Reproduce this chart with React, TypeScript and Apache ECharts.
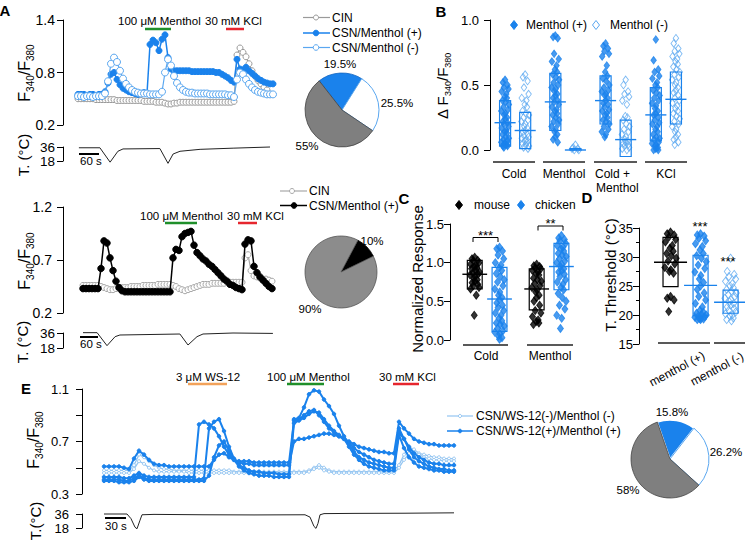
import React, { useEffect, useRef } from 'react';
import * as echarts from 'echarts';

const FONT = "'Liberation Sans', Arial, Helvetica, sans-serif";
const BLUE = '#1a82ec';
const LBLUE = '#5aa7f0';
const EL = '#93c5f2';
const GREEN = '#1f8f2a';
const RED = '#e6262e';
const ORANGE = '#f2a25a';

// ---------- Panel A (top): F340/F380 traces, one value per sample ----------
const aTopPos = [
  0.55, 0.55, 0.55, 0.54, 0.55, 0.55, 0.54, 0.55, 0.55,
  0.58, 0.68, 0.78, 0.8, 0.72, 0.66, 0.62, 0.6, 0.58, 0.57, 0.56, 0.55, 0.56, 0.57, 0.56,
  1.12, 1.17, 1.14, 1.05, 1.18, 1.23, 0.97, 0.84, 0.82,
  0.82, 0.82, 0.82, 0.82, 0.82, 0.81, 0.81, 0.81, 0.81, 0.81, 0.81, 0.81, 0.81, 0.8,
  0.8, 0.78, 0.76, 0.74, 0.71, 0.69,
  0.95, 0.84, 0.83, 0.86, 0.82, 0.79, 0.76, 0.73, 0.71, 0.69, 0.68, 0.67, 0.67,
];
const aTopNeg = [
  0.53, 0.53, 0.52, 0.53, 0.53, 0.52, 0.53, 0.53, 0.53,
  0.56, 0.7, 0.9, 0.97, 0.92, 0.82, 0.73, 0.67, 0.63, 0.6, 0.58, 0.57,
  0.56, 0.56, 0.56, 0.55, 0.55, 0.55, 0.55,
  0.58, 0.8, 0.95, 0.88, 0.76, 0.68, 0.63, 0.6, 0.58,
  0.57, 0.57, 0.56, 0.56, 0.56, 0.56, 0.56, 0.55, 0.55, 0.55, 0.55, 0.55, 0.55, 0.54, 0.54,
  0.52, 0.72, 0.8, 0.78, 0.72, 0.67, 0.63, 0.6, 0.58, 0.57, 0.56, 0.55, 0.55, 0.55,
];
const aTopCIN = [
  0.5, 0.5, 0.5, 0.5, 0.5, 0.5, 0.49, 0.49, 0.49, 0.49,
  0.49, 0.49, 0.49, 0.48, 0.48, 0.48, 0.48, 0.48, 0.48, 0.48, 0.48, 0.48, 0.47, 0.47,
  0.47, 0.47, 0.46, 0.46, 0.46, 0.45, 0.44, 0.44, 0.45, 0.45,
  0.46, 0.46, 0.46, 0.46, 0.46, 0.46, 0.46, 0.46, 0.46, 0.46, 0.46, 0.46, 0.46, 0.46, 0.46, 0.46, 0.46, 0.46,
  0.47, 1.0, 1.08, 1.03, 0.98, 0.9, 0.82, 0.76, 0.71, 0.67, 0.63, 0.6,
];
// [sample, °C]
const aTopTemp = [[0.3, 35], [7.3, 35], [10.7, 16.5], [13.3, 30.5], [15, 33.5], [27.3, 34], [30, 15], [31.7, 27], [34, 30.5], [40.7, 33], [51.7, 34.5], [64, 36]];
const aTopPie = [19.5, 25.5, 55];
const aTopPieLabels = ['19.5%', '25.5%', '55%'];

// ---------- Panel A (bottom) ----------
const aBotPos = [
  0.43, 0.43, 0.43, 0.43, 0.43, 0.43,
  0.62, 0.88, 0.86, 0.72, 0.6, 0.5, 0.44, 0.41,
  0.4, 0.4, 0.4, 0.4, 0.4, 0.4, 0.4, 0.4, 0.4, 0.4, 0.4, 0.4, 0.4, 0.4, 0.4, 0.4,
  0.72, 0.8, 0.79, 0.92, 0.95, 0.96, 0.97, 0.84, 0.77, 0.74, 0.71, 0.69, 0.66, 0.64, 0.61, 0.58, 0.55, 0.52, 0.5, 0.47, 0.46, 0.44, 0.43, 0.42,
  0.85, 0.89, 0.88, 0.64, 0.58, 0.54, 0.51, 0.48, 0.45, 0.43,
];
const aBotCIN = [
  0.46, 0.46, 0.46, 0.46, 0.46, 0.46,
  0.45, 0.44, 0.43, 0.42, 0.42, 0.43, 0.43,
  0.44, 0.44, 0.44, 0.45, 0.45, 0.45, 0.45, 0.46, 0.46, 0.46, 0.46, 0.46, 0.47, 0.47, 0.47, 0.47, 0.47,
  0.46, 0.45, 0.43, 0.42, 0.41, 0.42, 0.43, 0.44, 0.45, 0.46,
  0.47, 0.47, 0.47, 0.48, 0.48, 0.48, 0.48, 0.48, 0.49, 0.49, 0.49, 0.49, 0.49, 0.49,
  0.72, 0.75, 0.6, 0.55, 0.54, 0.53, 0.52, 0.52, 0.51, 0.5,
];
const aBotTemp = [[0, 36.4], [4.7, 36.4], [8, 20.8], [10.7, 31.6], [12.3, 33.6], [32.3, 34.8], [35, 21.6], [38, 31.6], [40, 34.8], [50, 36], [63.3, 35.5]];
const aBotPie = [10, 90];
const aBotPieLabels = ['10%', '90%'];

// ---------- Panel B ----------
const bGroups = ['Cold', 'Menthol', 'Cold +', 'KCl'];
const bPosPts = [
  [0.54, 0.52, 0.5, 0.48, 0.47, 0.45, 0.43, 0.41, 0.4, 0.38, 0.37, 0.35, 0.33, 0.31, 0.3, 0.28, 0.27, 0.25, 0.24, 0.22, 0.21, 0.2, 0.18, 0.17, 0.15, 0.14, 0.13, 0.12, 0.1, 0.09, 0.08, 0.07, 0.06, 0.05, 0.05, 0.04, 0.04, 0.03, 0.03, 0.02],
  [0.88, 0.87, 0.86, 0.74, 0.7, 0.68, 0.65, 0.62, 0.6, 0.58, 0.56, 0.54, 0.52, 0.5, 0.48, 0.47, 0.45, 0.43, 0.42, 0.4, 0.38, 0.37, 0.35, 0.33, 0.31, 0.3, 0.28, 0.27, 0.25, 0.23, 0.22, 0.2, 0.18, 0.16, 0.14, 0.12, 0.1, 0.08, 0.06],
  [0.82, 0.8, 0.78, 0.76, 0.74, 0.72, 0.65, 0.6, 0.57, 0.55, 0.53, 0.5, 0.48, 0.46, 0.45, 0.43, 0.42, 0.4, 0.38, 0.36, 0.35, 0.33, 0.31, 0.3, 0.28, 0.27, 0.25, 0.23, 0.22, 0.2, 0.18, 0.16, 0.14, 0.12, 0.1],
  [0.85, 0.69, 0.62, 0.6, 0.57, 0.55, 0.52, 0.5, 0.48, 0.46, 0.44, 0.42, 0.4, 0.38, 0.36, 0.34, 0.32, 0.3, 0.28, 0.27, 0.25, 0.23, 0.21, 0.2, 0.18, 0.16, 0.14, 0.12, 0.1, 0.09, 0.08, 0.06, 0.05, 0.04, 0.03, 0.02, 0.01, 0.0, 0.0],
];
const bNegPts = [
  [0.58, 0.56, 0.53, 0.48, 0.43, 0.4, 0.38, 0.35, 0.33, 0.3, 0.28, 0.27, 0.25, 0.23, 0.22, 0.2, 0.18, 0.17, 0.15, 0.14, 0.12, 0.11, 0.1, 0.09, 0.08, 0.07, 0.06, 0.05, 0.04, 0.03, 0.02, 0.01],
  [0.04, 0.02, 0.01, 0.0, 0.0, 0.01],
  [0.54, 0.5, 0.45, 0.43, 0.41, 0.38, 0.35, 0.26, 0.25, 0.23, 0.2, 0.18, 0.16, 0.14, 0.12, 0.1, 0.08, 0.07, 0.06, 0.05, 0.04, 0.03, 0.02, 0.01, 0.0],
  [0.86, 0.82, 0.78, 0.76, 0.74, 0.72, 0.7, 0.68, 0.66, 0.64, 0.62, 0.6, 0.58, 0.56, 0.54, 0.52, 0.5, 0.48, 0.46, 0.44, 0.42, 0.4, 0.38, 0.36, 0.34, 0.32, 0.3, 0.28, 0.26, 0.24, 0.22, 0.2, 0.18, 0.16, 0.14, 0.12, 0.1, 0.08, 0.06, 0.04],
];
const bPosLow = [0.03, 0.15, 0.2, 0.07];
const bPosHigh = [0.38, 0.59, 0.57, 0.48];
const bPosMean = [0.21, 0.37, 0.38, 0.27];
const bNegLow = [0.01, 0.0, -0.05, 0.2];
const bNegHigh = [0.29, 0.01, 0.23, 0.6];
const bNegMean = [0.15, 0.0, 0.08, 0.39];

// ---------- Panel C ----------
const cGroups = ['Cold', 'Menthol'];
const cMousePts = [
  [1.07, 1.05, 1.03, 1.02, 1.0, 0.98, 0.96, 0.95, 0.93, 0.92, 0.9, 0.88, 0.87, 0.85, 0.84, 0.82, 0.8, 0.78, 0.76, 0.74, 0.72, 0.7, 0.68, 0.66, 0.58, 0.32],
  [0.98, 0.96, 0.95, 0.93, 0.92, 0.9, 0.88, 0.86, 0.84, 0.8, 0.78, 0.76, 0.73, 0.7, 0.68, 0.65, 0.62, 0.58, 0.55, 0.5, 0.45, 0.38, 0.35, 0.3, 0.26, 0.24, 0.22, 0.2],
];
const cChickPts = [
  [1.2, 1.18, 1.15, 1.1, 1.05, 1.0, 0.97, 0.93, 0.9, 0.86, 0.82, 0.78, 0.75, 0.7, 0.66, 0.62, 0.58, 0.55, 0.52, 0.48, 0.45, 0.42, 0.38, 0.35, 0.32, 0.28, 0.25, 0.22, 0.2, 0.18, 0.15, 0.12, 0.1, 0.08, 0.05, 0.03, 0.01],
  [1.35, 1.32, 1.3, 1.28, 1.25, 1.22, 1.2, 1.18, 1.15, 1.12, 1.1, 1.08, 1.05, 1.02, 1.0, 0.98, 0.95, 0.92, 0.9, 0.88, 0.85, 0.82, 0.78, 0.75, 0.72, 0.68, 0.65, 0.6, 0.55, 0.5, 0.45, 0.4, 0.32, 0.28, 0.15],
];
const cMouseLow = [0.66, 0.39];
const cMouseHigh = [1.03, 0.92];
const cMouseMean = [0.85, 0.66];
const cChickLow = [0.11, 0.65];
const cChickHigh = [0.94, 1.25];
const cChickMean = [0.53, 0.95];

// ---------- Panel D ----------
const dMouse = [34.3, 34, 33.8, 33.4, 33, 32.6, 32, 31.5, 31, 30.6, 30.2, 29.8, 29.3, 28.8, 28.2, 27.8, 27.5, 27.2, 23.2, 22.9, 22.6, 20.6];
const dChickPos = [34, 33.8, 33.6, 33.2, 32.8, 32.3, 31.8, 31.2, 30.6, 30.2, 29.8, 29.2, 28.6, 28, 27.4, 26.8, 26.2, 25.6, 25, 24.4, 23.8, 23.2, 22.6, 22, 21.4, 20.8, 20.5, 20.3, 20.1, 20, 19.8, 19.7, 19.6, 19.5, 19.4, 19.3, 19.2, 19.2];
const dChickNeg = [29.8, 27.5, 27, 26.6, 26.2, 25.8, 25.4, 25, 24.7, 24.4, 24.1, 23.8, 23.5, 23.2, 22.9, 22.6, 22.3, 22, 21.7, 21.4, 21.1, 20.8, 20.5, 20.2, 20, 19.8, 19.5, 19.2, 19];
const dLow = [24.9, 19.9, 20.3];
const dHigh = [33.4, 30.3, 24.3];
const dMean = [29.1, 25.1, 22.2];
const dGroups = ['menthol (+)', 'menthol (-)'];

// ---------- Panel E ----------
const eD1 = [
  0.51, 0.51, 0.51, 0.51, 0.5,
  0.49, 0.57, 0.63, 0.6, 0.56, 0.53,
  0.52, 0.52, 0.51, 0.51, 0.51, 0.51, 0.51, 0.51, 0.51, 0.51, 0.51,
  0.56, 0.6, 0.61, 0.58, 0.56,
  0.55, 0.55, 0.55, 0.54, 0.54, 0.54, 0.54, 0.54, 0.54, 0.54, 0.54,
  0.86, 0.87, 0.9, 0.93, 0.94, 0.9, 0.85, 0.8, 0.77, 0.74, 0.72, 0.7, 0.68, 0.66, 0.65, 0.64, 0.63, 0.62, 0.62, 0.61, 0.61,
  0.85, 0.8, 0.76, 0.72, 0.7, 0.69, 0.68, 0.68, 0.67, 0.67, 0.67, 0.67,
];
const eD2 = [
  0.43, 0.43, 0.43, 0.43, 0.42,
  0.42, 0.44, 0.46, 0.44, 0.43,
  0.43, 0.43, 0.43, 0.43, 0.43, 0.43, 0.43, 0.43, 0.43,
  0.83, 0.85, 0.83, 0.8, 0.74, 0.66, 0.6, 0.56, 0.54, 0.53,
  0.53, 0.52, 0.52, 0.52, 0.52, 0.52, 0.52, 0.52, 0.52,
  0.7, 0.72, 0.72, 0.73, 0.74, 0.75, 0.76, 0.76, 0.75, 0.74, 0.72, 0.69, 0.65, 0.62, 0.6, 0.58, 0.56, 0.55, 0.54, 0.53, 0.53,
  0.77, 0.72, 0.66, 0.61, 0.58, 0.56, 0.54, 0.53, 0.53, 0.52, 0.52, 0.52,
];
const eD3 = [
  0.41, 0.41, 0.41, 0.41, 0.4,
  0.4, 0.42, 0.44, 0.42, 0.41,
  0.41, 0.41, 0.41, 0.41, 0.41, 0.41, 0.41, 0.41, 0.41, 0.41,
  0.42, 0.8, 0.85, 0.87, 0.78, 0.66, 0.57, 0.52, 0.5, 0.48,
  0.47, 0.47, 0.46, 0.46, 0.46, 0.45, 0.45, 0.45,
  0.87, 0.88, 0.96, 1.06, 1.09, 1.08, 1.02, 0.97, 0.91, 0.82, 0.74, 0.68, 0.62, 0.58, 0.56, 0.54, 0.53, 0.52, 0.51, 0.5, 0.5,
  0.8, 0.72, 0.64, 0.58, 0.55, 0.53, 0.51, 0.5, 0.49, 0.49, 0.48, 0.48,
];
const eD4 = [
  0.4, 0.4, 0.4, 0.39, 0.39,
  0.39, 0.4, 0.43, 0.41, 0.4,
  0.4, 0.4, 0.4, 0.4, 0.4, 0.4, 0.4, 0.4, 0.4, 0.4, 0.4,
  0.44, 0.58, 0.67, 0.7, 0.63, 0.56, 0.51, 0.48, 0.46,
  0.45, 0.44, 0.44, 0.44, 0.43, 0.43, 0.43, 0.43,
  0.84, 0.86, 0.88, 0.91, 0.93, 0.92, 0.87, 0.82, 0.78, 0.75, 0.72, 0.66, 0.6, 0.56, 0.53, 0.51, 0.5, 0.49, 0.48, 0.48, 0.48,
  0.75, 0.65, 0.58, 0.54, 0.51, 0.5, 0.49, 0.48, 0.48, 0.47, 0.47, 0.47,
];
const eL1 = [
  0.48, 0.48, 0.48, 0.48, 0.48, 0.48,
  0.52, 0.6, 0.58, 0.55, 0.52, 0.5,
  0.49, 0.49, 0.48, 0.48, 0.48, 0.48, 0.48, 0.48, 0.48, 0.48, 0.48, 0.48, 0.48, 0.48,
  0.47, 0.47, 0.47, 0.47, 0.47, 0.47, 0.47, 0.47, 0.47, 0.47, 0.47, 0.47, 0.47, 0.47, 0.47,
  0.48, 0.5, 0.52, 0.5, 0.48,
  0.47, 0.47, 0.47, 0.47, 0.47, 0.47, 0.47, 0.47, 0.47, 0.47, 0.48, 0.48, 0.48,
  0.52, 0.6, 0.66, 0.64, 0.61, 0.6, 0.59, 0.58, 0.58, 0.57, 0.57, 0.57,
];
const eL2 = [
  0.46, 0.46, 0.46, 0.46, 0.46, 0.46,
  0.49, 0.55, 0.53, 0.5, 0.48,
  0.47, 0.47, 0.47, 0.47, 0.47, 0.47,
  0.46, 0.46, 0.46, 0.46, 0.46, 0.46, 0.46, 0.46, 0.46, 0.46, 0.46, 0.46,
  0.46, 0.46, 0.46, 0.46, 0.46, 0.46, 0.46, 0.46, 0.46, 0.46, 0.46, 0.46,
  0.47, 0.49, 0.5, 0.48, 0.47,
  0.46, 0.46, 0.46, 0.46, 0.46, 0.46, 0.46, 0.46, 0.46, 0.46, 0.46, 0.46, 0.46,
  0.5, 0.56, 0.61, 0.62, 0.6, 0.58, 0.57, 0.56, 0.56, 0.55, 0.55, 0.55,
];
const eTemp = [[0, 36], [4.6, 36], [5.4, 30], [6.2, 19], [6.6, 17], [7.2, 28], [7.6, 35], [10, 35.5], [20, 35], [30, 34.8], [40.2, 35], [41.2, 32], [42, 20], [42.4, 17.5], [42.8, 24], [43.2, 35], [44, 36.5], [50, 36.8], [60, 37], [70, 37.5]];
const ePie = [15.8, 26.2, 58];
const ePieLabels = ['15.8%', '26.2%', '58%'];

// deterministic horizontal spread for the dot clouds (layout only)
const JIT = [0, -0.55, 0.6, -0.3, 0.85, -0.85, 0.3, -0.1, 0.45, -0.65, 0.15, 0.95, -0.4, 0.7, -0.95, 0.05, -0.2, 0.5];

const idx = (arr: number[]) => arr.map((v, i) => [i, v]);

function txt(text: string, x: number, y: number, o: any = {}) {
  return {
    type: 'text', x, y, rotation: o.rot || 0, z: 100, silent: true,
    style: {
      text, fill: o.color || '#000', fontSize: o.size || 12, fontFamily: FONT,
      fontWeight: o.bold ? 'bold' : 'normal',
      align: o.align || 'left', verticalAlign: o.va || 'middle',
      textAlign: o.align || 'left', textVerticalAlign: o.va || 'middle',
      rich: o.rich,
    },
  };
}
function ln(x1: number, y1: number, x2: number, y2: number, stroke = '#000', lineWidth = 1) {
  return { type: 'line', z: 100, silent: true, shape: { x1, y1, x2, y2 }, style: { stroke, lineWidth } };
}
function circ(cx: number, cy: number, r: number, fill: string, stroke?: string) {
  return { type: 'circle', z: 101, silent: true, shape: { cx, cy, r }, style: { fill, stroke: stroke || fill, lineWidth: 1 } };
}
function dia(cx: number, cy: number, fill: string, stroke: string) {
  return { type: 'polygon', z: 101, silent: true, shape: { points: [[cx, cy - 4.5], [cx + 3.5, cy], [cx, cy + 4.5], [cx - 3.5, cy]] }, style: { fill, stroke, lineWidth: 1 } };
}
function bracket(x1: number, x2: number, top: number, leg: number) {
  return { type: 'polyline', z: 100, silent: true, shape: { points: [[x1, top + leg], [x1, top], [x2, top], [x2, top + leg]] }, style: { stroke: '#000', fill: 'none', lineWidth: 1 } };
}
const fRich = (size: number) => ({
  m: { fontSize: size, fontFamily: FONT, lineHeight: size + 6, fill: '#000' },
  s: { fontSize: Math.round(size * 0.6), fontFamily: FONT, verticalAlign: 'bottom', fill: '#000' },
});

function yAx(gi: number, o: any) {
  return {
    type: 'value', gridIndex: gi, min: o.min, max: o.max, offset: o.offset || 0, interval: o.interval,
    axisLine: { show: true, onZero: false, lineStyle: { color: '#000', width: 1 } },
    axisTick: { show: true, length: o.tick || 6, lineStyle: { color: '#000', width: 1 }, customValues: o.ticks },
    minorTick: { show: !!o.minor, splitNumber: 2, length: 3, lineStyle: { color: '#000' } },
    axisLabel: {
      color: '#000', fontSize: o.fs || 14, fontFamily: FONT, margin: o.margin ?? 8, customValues: o.labels,
      lineHeight: o.lh, formatter: o.fmt || ((v: number) => v.toFixed(1)),
      showMinLabel: true, showMaxLabel: true, hideOverlap: false,
    },
    splitLine: { show: false },
  };
}
const xAx = (gi: number, min: number, max: number) => ({
  type: 'value', gridIndex: gi, min, max, show: false, axisLine: { onZero: false },
});

function trace(ax: number, values: number[], color: string, fill: string, size: number, width: number, z: number) {
  return {
    type: 'line', xAxisIndex: ax, yAxisIndex: ax, data: idx(values), silent: true, z,
    symbol: 'circle', symbolSize: size, showAllSymbol: true, showSymbol: true,
    lineStyle: { color, width }, itemStyle: { color: fill, borderColor: color, borderWidth: 1 },
  };
}
function tempLine(ax: number, data: number[][]) {
  return { type: 'line', xAxisIndex: ax, yAxisIndex: ax, data, silent: true, clip: false, symbol: 'none', lineStyle: { color: '#222', width: 1 } };
}
function dots(ax: number, values: number[], cx: number, spread: number, fill: string, stroke: string, size: number[]) {
  return {
    type: 'scatter', xAxisIndex: ax, yAxisIndex: ax, silent: true, symbol: 'diamond', symbolSize: size, z: 2,
    data: values.map((v, i) => [cx + JIT[i % JIT.length] * spread, v]),
    itemStyle: { color: fill, borderColor: stroke, borderWidth: 0.9 },
  };
}
function boxes(ax: number, xs: number[], lows: number[], highs: number[], halfW: number, color: string) {
  return {
    type: 'custom', xAxisIndex: ax, yAxisIndex: ax, silent: true, z: 4, clip: false,
    data: xs.map((x, i) => [x, lows[i], highs[i]]),
    renderItem: (_p: any, api: any) => {
      const a = api.coord([api.value(0) - halfW, api.value(2)]);
      const b = api.coord([api.value(0) + halfW, api.value(1)]);
      return { type: 'rect', shape: { x: a[0], y: a[1], width: b[0] - a[0], height: Math.max(b[1] - a[1], 1) }, style: { fill: 'none', stroke: color, lineWidth: 1.2 } };
    },
  };
}
function means(ax: number, xs: number[], vals: number[], halfW: number, color: string) {
  return {
    type: 'custom', xAxisIndex: ax, yAxisIndex: ax, silent: true, z: 5, clip: false,
    data: xs.map((x, i) => [x, vals[i]]),
    renderItem: (_p: any, api: any) => {
      const a = api.coord([api.value(0) - halfW, api.value(1)]);
      const b = api.coord([api.value(0) + halfW, api.value(1)]);
      return { type: 'line', shape: { x1: a[0], y1: a[1], x2: b[0], y2: b[1] }, style: { stroke: color, lineWidth: 1.4 } };
    },
  };
}
function pie(center: number[], r: number, start: number, values: number[], styles: any[]) {
  return {
    type: 'pie', center, radius: r, startAngle: start, clockwise: true, silent: true,
    label: { show: false }, labelLine: { show: false },
    data: values.map((v, i) => ({ value: v, itemStyle: styles[i] })),
  };
}

function buildOption() {
  const grid = [
    { left: 78, top: 20, width: 195, height: 105 },
    { left: 78, top: 147, width: 195, height: 14 },
    { left: 83, top: 207, width: 189, height: 106 },
    { left: 83, top: 333, width: 189, height: 15 },
    { left: 490, top: 20, width: 201, height: 130 },
    { left: 450, top: 224, width: 130, height: 116 },
    { left: 639, top: 228, width: 106, height: 116 },
    { left: 104, top: 389, width: 350, height: 105 },
    { left: 104, top: 514, width: 350, height: 14 },
  ];
  const xAxis = [
    xAx(0, 0, 65), xAx(1, 0, 65), xAx(2, 0, 63), xAx(3, 0, 63),
    xAx(4, -0.5, 3.5), xAx(5, -0.6, 1.5), xAx(6, -1.05, 2.48),
    xAx(7, 0, 70), xAx(8, 0, 70),
  ];
  const intFmt = (v: number) => String(Math.round(v));
  const yAxis = [
    yAx(0, { min: 0.2, max: 1.4, offset: 15, ticks: [0.2, 0.8, 1.4], labels: [0.2, 0.8, 1.4] }),
    yAx(1, { min: 18, max: 36, offset: 15, ticks: [18, 36], labels: [18, 36], fmt: intFmt, fs: 13.5, lh: 10 }),
    yAx(2, { min: 0.2, max: 1.2, offset: 20, ticks: [0.2, 0.7, 1.2], labels: [0.2, 0.7, 1.2], margin: 11 }),
    yAx(3, { min: 18, max: 36, offset: 20, ticks: [18, 36], labels: [18, 36], fmt: intFmt, fs: 13.5, lh: 10 }),
    yAx(4, { min: 0, max: 1, ticks: [0, 0.5, 1], labels: [0, 0.5, 1], fs: 13, margin: 11 }),
    yAx(5, { min: 0, max: 1.5, ticks: [0, 0.5, 1, 1.5], labels: [0, 0.5, 1, 1.5], fs: 13, margin: 6 }),
    yAx(6, { min: 15, max: 35, interval: 5, minor: true, fs: 13, margin: 6, fmt: intFmt }),
    yAx(7, { min: 0.3, max: 1.1, offset: 22, ticks: [0.3, 0.5, 0.7, 0.9, 1.1], labels: [0.3, 0.7, 1.1], fs: 13, margin: 13 }),
    yAx(8, { min: 18, max: 36, offset: 22, ticks: [18, 36], labels: [18, 36], fs: 13, margin: 13, fmt: intFmt, lh: 10 }),
  ];

  const bPosX = bGroups.map((_, g) => g - 0.2);
  const bNegX = bGroups.map((_, g) => g + 0.2);
  const cMouseX = cGroups.map((_, g) => g - 0.2);
  const cChickX = cGroups.map((_, g) => g + 0.2);
  const SB = [5.5, 7.5];
  const SC = [6, 8];

  const series: any[] = [
    // A top
    trace(0, aTopCIN, '#9a9a9a', '#fff', 6, 1.2, 2),
    trace(0, aTopPos, BLUE, BLUE, 6, 1.5, 3),
    trace(0, aTopNeg, LBLUE, '#fff', 7, 1.2, 4),
    tempLine(1, aTopTemp),
    // A bottom
    trace(2, aBotCIN, '#a8a8a8', '#fff', 6, 1.2, 2),
    trace(2, aBotPos, '#000', '#000', 6.5, 1.5, 3),
    tempLine(3, aBotTemp),
    // B
    ...bPosPts.map((p, g) => dots(4, p, bPosX[g], 0.08, BLUE, BLUE, SB)),
    ...bNegPts.map((p, g) => dots(4, p, bNegX[g], 0.08, 'rgba(255,255,255,0)', LBLUE, SB)),
    boxes(4, bPosX, bPosLow, bPosHigh, 0.11, BLUE),
    boxes(4, bNegX, bNegLow, bNegHigh, 0.11, BLUE),
    means(4, bPosX, bPosMean, 0.21, BLUE),
    means(4, bNegX, bNegMean, 0.21, BLUE),
    // C
    ...cMousePts.map((p, g) => dots(5, p, cMouseX[g], 0.08, '#000', '#000', SC)),
    ...cChickPts.map((p, g) => dots(5, p, cChickX[g], 0.08, BLUE, BLUE, SC)),
    boxes(5, cMouseX, cMouseLow, cMouseHigh, 0.12, '#000'),
    boxes(5, cChickX, cChickLow, cChickHigh, 0.12, BLUE),
    means(5, cMouseX, cMouseMean, 0.2, '#000'),
    means(5, cChickX, cChickMean, 0.2, BLUE),
    // D
    dots(6, dMouse, 0, 0.2, '#000', '#000', SC),
    dots(6, dChickPos, 1, 0.2, BLUE, BLUE, SC),
    dots(6, dChickNeg, 2, 0.2, 'rgba(255,255,255,0)', LBLUE, SC),
    boxes(6, [0], [dLow[0]], [dHigh[0]], 0.25, '#000'),
    boxes(6, [1, 2], dLow.slice(1), dHigh.slice(1), 0.25, BLUE),
    means(6, [0], [dMean[0]], 0.55, '#000'),
    means(6, [1, 2], dMean.slice(1), 0.55, BLUE),
    // E
    trace(7, eL1, EL, '#fff', 3, 1.2, 2),
    trace(7, eL2, EL, '#fff', 3, 1.2, 2),
    trace(7, eD1, BLUE, BLUE, 3.5, 2, 3),
    trace(7, eD2, BLUE, BLUE, 3.5, 2, 3),
    trace(7, eD3, BLUE, BLUE, 3.5, 2, 3),
    trace(7, eD4, BLUE, BLUE, 3.5, 2, 3),
    tempLine(8, eTemp),
    // pies
    pie([342, 110], 37, 128, aTopPie, [
      { color: BLUE, borderColor: '#1466c0', borderWidth: 0.8 },
      { color: '#fff', borderColor: LBLUE, borderWidth: 1 },
      { color: '#7f7f7f', borderColor: '#444', borderWidth: 0.8 },
    ]),
    pie([341, 272], 36, 62, aBotPie, [
      { color: '#000', borderColor: '#000', borderWidth: 0.8 },
      { color: '#8c8c8c', borderColor: '#555', borderWidth: 0.8 },
    ]),
    pie([670, 459], 39, 109, ePie, [
      { color: BLUE, borderColor: '#fff', borderWidth: 1.5 },
      { color: '#fff', borderColor: LBLUE, borderWidth: 1 },
      { color: '#7f7f7f', borderColor: '#444', borderWidth: 0.8 },
    ]),
  ];

  const FR = '{m|F}{s|340}{m|/F}{s|380}';
  const g: any[] = [
    // panel letters
    txt('A', 5, 10, { bold: true, size: 15, align: 'center' }),
    txt('B', 441, 11, { bold: true, size: 15, align: 'center' }),
    txt('C', 404, 198, { bold: true, size: 15, align: 'center' }),
    txt('D', 587, 197, { bold: true, size: 15, align: 'center' }),
    txt('E', 26, 388, { bold: true, size: 15, align: 'center' }),
    // axis titles
    txt(FR, 24, 73, { rot: Math.PI / 2, align: 'center', rich: fRich(16) }),
    txt('T. (°C)', 23, 155, { rot: Math.PI / 2, align: 'center', size: 15 }),
    txt(FR, 24, 261, { rot: Math.PI / 2, align: 'center', rich: fRich(16) }),
    txt('T. (°C)', 22, 342, { rot: Math.PI / 2, align: 'center', size: 15 }),
    txt(FR, 33, 440, { rot: Math.PI / 2, align: 'center', rich: fRich(16) }),
    txt('T.(°C)', 35, 521, { rot: Math.PI / 2, align: 'center', size: 15 }),
    txt('{m|Δ F}{s|340}{m|/F}{s|380}', 442, 86, { rot: Math.PI / 2, align: 'center', rich: fRich(15) }),
    txt('Normalized Response', 417, 279, { rot: Math.PI / 2, align: 'center', size: 15 }),
    txt('T. Threshold (°C)', 610, 275, { rot: Math.PI / 2, align: 'center', size: 15 }),
    // stimulus annotations A top
    txt('100 μM Menthol', 118, 21, { size: 11.5 }), ln(145, 29, 171, 29, GREEN, 2.5),
    txt('30 mM KCl', 205, 21, { size: 11.5 }), ln(226, 29, 244, 29, RED, 2.5),
    // A bottom
    txt('100 μM Menthol', 140, 216, { size: 11.5 }), ln(165, 223, 197, 223, GREEN, 2.5),
    txt('30 mM KCl', 227, 216, { size: 11.5 }), ln(238, 223, 257, 223, RED, 2.5),
    // E
    txt('3 μM WS-12', 176, 377, { size: 11.5 }), ln(188, 384, 227, 384, ORANGE, 2.5),
    txt('100 μM Menthol', 267, 377, { size: 11.5 }), ln(287, 384, 324, 384, GREEN, 2.5),
    txt('30 mM KCl', 379, 377, { size: 11.5 }), ln(393, 384, 419, 384, RED, 2.5),
    // scale bars
    ln(79, 154, 99, 154, '#000', 2), txt('60 s', 80, 161, { size: 11.5 }),
    ln(80, 337, 98, 337, '#000', 2), txt('60 s', 80, 344, { size: 11.5 }),
    ln(105, 518, 126, 518, '#000', 2), txt('30 s', 105, 526, { size: 11.5 }),
    // legend A top
    ln(303, 17.5, 330, 17.5, '#9a9a9a', 1.2), circ(316, 17.5, 2.5, '#fff', '#9a9a9a'), txt('CIN', 332, 17.5),
    ln(303, 33, 330, 33, BLUE, 1.5), circ(316, 33, 2.8, BLUE), txt('CSN/Menthol (+)', 332, 33),
    ln(303, 47.5, 330, 47.5, LBLUE, 1.2), circ(316, 47.5, 2.8, '#fff', LBLUE), txt('CSN/Menthol (-)', 332, 47.5),
    // legend A bottom
    ln(280, 191, 307, 191, '#a8a8a8', 1.2), circ(292, 191, 2.5, '#fff', '#a8a8a8'), txt('CIN', 309, 191),
    ln(280, 205.5, 307, 205.5, '#000', 1.5), circ(294, 205.5, 2.8, '#000'), txt('CSN/Menthol (+)', 309, 205.5),
    // legend E
    ln(447, 416, 473, 416, EL, 1.2), circ(460, 416, 1.6, '#fff', EL), txt('CSN/WS-12(-)/Menthol (-)', 476, 416),
    ln(447, 431, 473, 431, BLUE, 1.5), circ(460, 431, 1.8, BLUE), txt('CSN/WS-12(+)/Menthol (+)', 476, 431),
    // legend B
    dia(514, 25, BLUE, BLUE), txt('Menthol (+)', 526, 25),
    dia(596, 25, '#fff', LBLUE), txt('Menthol (-)', 610, 25),
    // legend C
    dia(459, 205, '#000', '#000'), txt('mouse', 474, 205),
    dia(521, 205, BLUE, BLUE), txt('chicken', 535, 205),
    // B category underlines + labels
    ln(493, 162, 535, 162, '#222', 1.5), ln(543, 162, 585, 162, '#222', 1.5),
    ln(594, 162, 637, 162, '#222', 1.5), ln(645, 162, 687, 162, '#222', 1.5),
    txt(bGroups[0], 514, 174, { align: 'center' }),
    txt(bGroups[1], 564, 174, { align: 'center' }),
    txt(bGroups[2], 595, 174, { align: 'left' }),
    txt('Menthol', 596, 188, { align: 'left' }),
    txt(bGroups[3], 666, 174, { align: 'center' }),
    // C underlines + labels + brackets
    ln(463, 345, 508, 345, '#222', 1.5), ln(527, 345, 573, 345, '#222', 1.5),
    txt(cGroups[0], 486, 356, { align: 'center' }),
    txt(cGroups[1], 550, 356, { align: 'center' }),
    bracket(473, 498, 237.5, 4.5), txt('***', 485.5, 235, { align: 'center', size: 13 }),
    bracket(538, 563, 226, 4.5), txt('**', 550.5, 223.5, { align: 'center', size: 13 }),
    // D underlines + labels + stars
    ln(658, 343, 710, 343, '#222', 1.5), ln(714, 343, 745, 343, '#222', 1.5),
    txt(dGroups[0], 677, 369, { align: 'center', rot: 28 * Math.PI / 180 }),
    txt(dGroups[1], 717, 369, { align: 'center', rot: 28 * Math.PI / 180 }),
    txt('***', 700, 226.5, { align: 'center', size: 13 }),
    txt('***', 728, 261.5, { align: 'center', size: 13 }),
    // pie labels
    txt(aTopPieLabels[0], 340, 64, { align: 'center', size: 11.5 }),
    txt(aTopPieLabels[1], 397, 103, { align: 'center', size: 11.5 }),
    txt(aTopPieLabels[2], 307, 146, { align: 'center', size: 11.5 }),
    txt(aBotPieLabels[0], 372, 241, { align: 'center', size: 11.5 }),
    txt(aBotPieLabels[1], 310, 309, { align: 'center', size: 11.5 }),
    txt(ePieLabels[0], 672, 412, { align: 'center', size: 11.5 }),
    txt(ePieLabels[1], 726, 452, { align: 'center', size: 11.5 }),
    txt(ePieLabels[2], 628, 490, { align: 'center', size: 11.5 }),
  ];

  return {
    animation: false,
    backgroundColor: '#fff',
    textStyle: { fontFamily: FONT },
    grid, xAxis, yAxis, series,
    graphic: { elements: g },
  };
}

export default function App() {
  const ref = useRef<HTMLDivElement>(null);
  useEffect(() => {
    if (!ref.current) return;
    const chart = echarts.init(ref.current, null, { renderer: 'svg' });
    chart.setOption(buildOption() as any);
    return () => chart.dispose();
  }, []);
  return (
    <div
      ref={ref}
      style={{ position: 'fixed', left: 0, top: 0, width: 745, height: 541, background: '#fff' }}
    />
  );
}
